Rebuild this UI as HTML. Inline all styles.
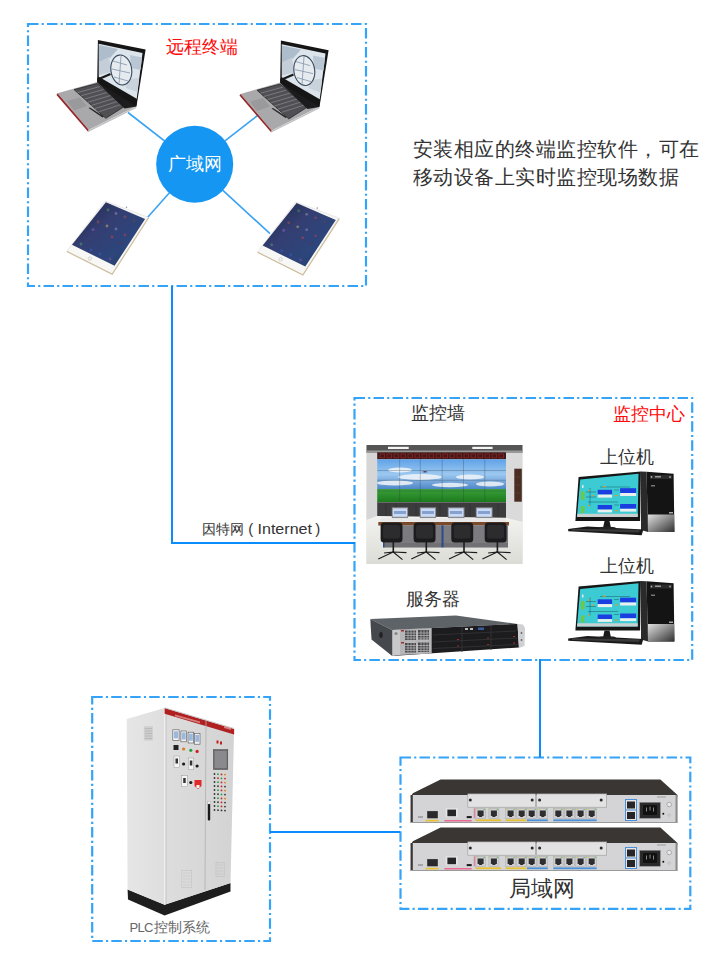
<!DOCTYPE html>
<html><head><meta charset="utf-8">
<style>
html,body{margin:0;padding:0;background:#fff;}
body{width:720px;height:967px;overflow:hidden;position:relative;font-family:"Liberation Sans",sans-serif;}
svg{position:absolute;left:0;top:0;}
.t{font-family:"Liberation Sans",sans-serif;}
</style></head><body>
<svg width="720" height="967" viewBox="0 0 720 967">
<defs>
</defs>
<g id="boxes" stroke="#35a3f7" stroke-width="2.2" stroke-dasharray="10.5 3.2 2.1 3.2" fill="none">
  <rect x="28" y="24" width="338" height="262"/>
  <rect x="354.5" y="398" width="337.7" height="262"/>
  <rect x="400.5" y="757.5" width="289.8" height="151.3"/>
  <rect x="92.2" y="697" width="177.8" height="244"/>
</g>
<g id="links" stroke="#0a8cfc" stroke-width="2" fill="none">
  <polyline points="172,286 172,543 355,543"/>
  <line x1="540" y1="659" x2="540" y2="757.5"/>
  <line x1="270" y1="832" x2="400" y2="832"/>
</g>
<g id="wan" stroke="#3aa3f3" stroke-width="1.6">
  <line x1="128" y1="112.5" x2="194.7" y2="164.3"/>
  <line x1="257.5" y1="115.5" x2="194.7" y2="164.3"/>
  <line x1="147.5" y1="217.5" x2="194.7" y2="164.3"/>
  <line x1="270" y1="233.7" x2="194.7" y2="164.3"/>
</g>

  <g id="laptop">
    <!-- base -->
    <polygon points="57.5,93.3 97.2,82 136.3,106.2 88.7,129.8" fill="#a9a9ac"/>
    <polygon points="57.5,93.3 88.7,129.8 88.3,132 56.5,95" fill="#93282a"/>
    <polygon points="88.7,129.8 136.3,106.2 136.3,108 88.3,132" fill="#c4c4c6"/>
    <polygon points="67,101 80,97.5 87,106 74,110.5" fill="#9a9a9d"/>
    <polygon points="74,89.6 97.2,83.5 124.1,106.7 105.8,118.3" fill="#505054" stroke="#2a2a2c" stroke-width="0.8"/>
    <g stroke="#8a8a90" stroke-width="0.7">
      <line x1="77.5" y1="92.6" x2="100" y2="86.5"/>
      <line x1="81" y1="95.8" x2="103.5" y2="89.5"/>
      <line x1="84.5" y1="99" x2="107" y2="92.5"/>
      <line x1="88" y1="102.2" x2="110.5" y2="95.5"/>
      <line x1="91.5" y1="105.4" x2="114" y2="98.5"/>
      <line x1="95" y1="108.6" x2="117.5" y2="101.5"/>
      <line x1="98.5" y1="111.8" x2="121" y2="104.5"/>
    </g>
    <polygon points="88.5,108 90,107.5 104,116.5 102.5,117.5" fill="#2a2a2c"/>
    <polygon points="97.2,78 136.7,98.8 136.3,106.5 124.5,108.5 97.2,82.5" fill="#1c1c1e"/>
    <!-- lid -->
    <polygon points="97.9,40 145.6,49.6 136.5,106.2 97.2,82" fill="#151515"/>
    <polygon points="98.75,43.75 142.5,52.9 136.7,98.75 98.75,76.7" fill="#dde5ec"/>
    <polygon points="99,45 118,49 110,58 99,62" fill="#aebdcc"/>
    <polygon points="130,55 142,57.5 140.5,70 131,68" fill="#b9c6d3"/>
    <polygon points="99,62 109,57 111,72 99,75" fill="#c3ced9"/>
    <polygon points="125,80 139,78 137.5,92 126,88" fill="#c9d3dc"/>
    <ellipse cx="121.3" cy="70" rx="10.4" ry="15" fill="#e6ebf0" stroke="#3a4a5c" stroke-width="1.1" transform="rotate(-8 121.3 70)"/>
    <g stroke="#8d9db0" stroke-width="0.9">
      <line x1="113" y1="61" x2="127" y2="65"/>
      <line x1="112" y1="69" x2="130" y2="73"/>
      <line x1="114" y1="77" x2="128" y2="81"/>
      <line x1="121" y1="56" x2="119" y2="84"/>
    </g>
    <line x1="110.5" y1="74" x2="100" y2="78.5" stroke="#1a1a1a" stroke-width="2.2"/>
  </g>
<use href="#laptop" transform="translate(183,0.6)"/>
<defs>
  <linearGradient id="tabscr" x1="0" y1="0" x2="1" y2="1">
    <stop offset="0" stop-color="#1e2846"/>
    <stop offset="0.4" stop-color="#343e72"/>
    <stop offset="0.7" stop-color="#2c467c"/>
    <stop offset="1" stop-color="#22345c"/>
  </linearGradient>
</defs>
<g id="tablet">
    <polygon points="105.1,201 148.3,217.3 112,273.8 67,251" fill="#f7f7f5" stroke="#dcdcdc" stroke-width="0.6"/>
    <polyline points="148.6,217.8 112.2,274.3 66.8,251.5" fill="none" stroke="#cdbb98" stroke-width="1.1"/>
    <polygon points="105.9,202.3 145.1,219.1 114.6,265.8 72,244.8" fill="url(#tabscr)"/>
    <g opacity="0.55">
      <circle cx="108" cy="210" r="1.4" fill="#4a9a5a"/>
      <circle cx="116" cy="213.5" r="1.4" fill="#9090a8"/>
      <circle cx="125" cy="217" r="1.4" fill="#a05050"/>
      <circle cx="134" cy="221" r="1.4" fill="#505050"/>
      <circle cx="98" cy="222" r="1.4" fill="#a05050"/>
      <circle cx="107" cy="226" r="1.4" fill="#c0b060"/>
      <circle cx="116" cy="229" r="1.4" fill="#9090b0"/>
      <circle cx="93" cy="229.5" r="1.6" fill="#8060c0"/>
      <circle cx="112" cy="237" r="1.4" fill="#c04050"/>
      <circle cx="125" cy="235" r="1.4" fill="#b04050"/>
      <circle cx="121" cy="243" r="1.4" fill="#603040"/>
      <circle cx="81" cy="244" r="1.4" fill="#50a070"/>
      <circle cx="91" cy="250" r="1.4" fill="#3060c0"/>
      <circle cx="100" cy="254" r="1.4" fill="#3060c0"/>
      <circle cx="110" cy="259" r="1.4" fill="#8050a0"/>
    </g>
    <circle cx="126.5" cy="207.3" r="0.8" fill="#999"/>
    <circle cx="90" cy="258.5" r="1.7" fill="none" stroke="#c4c4c4" stroke-width="0.7"/>
  </g>
<use href="#tablet" transform="translate(190.7,0.8)"/>
<defs>
  <linearGradient id="sky" x1="0" y1="0" x2="0" y2="1">
    <stop offset="0" stop-color="#5fa2e8"/>
    <stop offset="0.5" stop-color="#9cc8f0"/>
    <stop offset="1" stop-color="#4f86c8"/>
  </linearGradient>
  <linearGradient id="grass" x1="0" y1="0" x2="0" y2="1">
    <stop offset="0" stop-color="#3aa03a"/>
    <stop offset="1" stop-color="#1c7a1c"/>
  </linearGradient>
  <linearGradient id="floor" x1="0" y1="0" x2="0" y2="1">
    <stop offset="0" stop-color="#f2f2f0"/>
    <stop offset="1" stop-color="#dcdcd6"/>
  </linearGradient>
</defs>
<g id="videowall">
  <rect x="366.5" y="445" width="156" height="119" fill="url(#floor)"/>
  <!-- walls -->
  <polygon points="366.5,452 377.2,452 377.2,516 366.5,520" fill="#d6d6d6"/>
  <polygon points="506,452 522.5,452 522.5,522 506,517.7" fill="#dadada"/>
  <rect x="514.3" y="468.7" width="7.5" height="33" fill="#4a2e24"/>
  <g stroke="#6a4a3a" stroke-width="0.5"><line x1="514.3" y1="477" x2="521.8" y2="477"/><line x1="514.3" y1="485" x2="521.8" y2="485"/><line x1="514.3" y1="493" x2="521.8" y2="493"/></g>
  <!-- ceiling -->
  <rect x="366.5" y="445" width="156" height="7.5" fill="#555"/>
  <rect x="366.5" y="450.5" width="156" height="2" fill="#999"/>
  <rect x="388" y="446.8" width="20.7" height="2.2" fill="#f4f4f4"/>
  <rect x="472.3" y="446.8" width="20.3" height="2.2" fill="#f4f4f4"/>
  <!-- LED band -->
  <rect x="377.2" y="452.3" width="128.8" height="7" fill="#3a1a1a"/>
  <g fill="none" stroke="#9a2020" stroke-width="0.8"><rect x="380" y="454" width="4.5" height="3.8"/><rect x="387" y="454" width="4.5" height="3.8"/><rect x="394" y="454" width="4.5" height="3.8"/><rect x="401" y="454" width="4.5" height="3.8"/><rect x="408" y="454" width="4.5" height="3.8"/><rect x="415" y="454" width="4.5" height="3.8"/><rect x="422" y="454" width="4.5" height="3.8"/><rect x="429" y="454" width="4.5" height="3.8"/><rect x="436" y="454" width="4.5" height="3.8"/><rect x="443" y="454" width="4.5" height="3.8"/><rect x="450" y="454" width="4.5" height="3.8"/><rect x="457" y="454" width="4.5" height="3.8"/><rect x="464" y="454" width="4.5" height="3.8"/><rect x="471" y="454" width="4.5" height="3.8"/><rect x="478" y="454" width="4.5" height="3.8"/><rect x="485" y="454" width="4.5" height="3.8"/><rect x="492" y="454" width="4.5" height="3.8"/><rect x="499" y="454" width="4.5" height="3.8"/></g>
  <!-- wall screen -->
  <rect x="377.2" y="459.3" width="128.8" height="30" fill="url(#sky)"/>
  <g fill="#f2f6fa" opacity="0.85">
    <ellipse cx="400" cy="470" rx="12" ry="2.5"/>
    <ellipse cx="420" cy="477" rx="22" ry="3"/>
    <ellipse cx="395" cy="483" rx="18" ry="2.5"/>
    <ellipse cx="470" cy="477" rx="14" ry="2.5"/>
    <ellipse cx="490" cy="484" rx="14" ry="2.5"/>
    <ellipse cx="450" cy="485" rx="18" ry="2.2"/>
  </g>
  <rect x="377.2" y="489" width="128.8" height="13" fill="url(#grass)"/>
  <g stroke="#2a3a40" stroke-width="0.5" opacity="0.55">
    <line x1="399.6" y1="459.3" x2="399.6" y2="502"/><line x1="420.3" y1="459.3" x2="420.3" y2="502"/><line x1="442.2" y1="459.3" x2="442.2" y2="502"/><line x1="463.5" y1="459.3" x2="463.5" y2="502"/><line x1="484.8" y1="459.3" x2="484.8" y2="502"/>
    <line x1="377.2" y1="470.5" x2="506" y2="470.5"/><line x1="377.2" y1="480.3" x2="506" y2="480.3"/><line x1="377.2" y1="491" x2="506" y2="491"/>
  </g>
  <path d="M422,472 l3,-1 l3,1 l-3,0.6z" fill="#503040"/>
  <!-- dark panel under wall -->
  <rect x="377.2" y="502" width="128.8" height="17.5" fill="#3c3c3e"/>
  <rect x="377.2" y="502" width="128.8" height="1" fill="#6a6a6a"/>
  <g stroke="#2c2c2e" stroke-width="0.6">
    <line x1="386" y1="503" x2="386" y2="519"/><line x1="396" y1="503" x2="396" y2="519"/><line x1="416" y1="503" x2="416" y2="519"/><line x1="440" y1="503" x2="440" y2="519"/><line x1="470" y1="503" x2="470" y2="519"/><line x1="498" y1="503" x2="498" y2="519"/>
  </g>
  <!-- floor band tile lines -->
  <polygon points="366.5,520 377.2,516 506,517.7 522.5,522 522.5,564 366.5,564" fill="url(#floor)"/>
  <!-- monitors -->
  <g>
    <rect x="391.8" y="507.3" width="16.3" height="11" fill="#8a8a8e"/><rect x="392.8" y="508.3" width="14.3" height="8.5" fill="#c8daf4"/><rect x="394" y="511" width="12" height="3" fill="#5a7ab8" opacity="0.6"/>
    <rect x="419.8" y="507.3" width="16.3" height="11" fill="#8a8a8e"/><rect x="420.8" y="508.3" width="14.3" height="8.5" fill="#c8daf4"/><rect x="422" y="511" width="12" height="3" fill="#5a7ab8" opacity="0.6"/>
    <rect x="447.8" y="507.3" width="16.7" height="11" fill="#8a8a8e"/><rect x="448.8" y="508.3" width="14.7" height="8.5" fill="#c8daf4"/><rect x="450" y="511" width="12" height="3" fill="#5a7ab8" opacity="0.6"/>
    <rect x="475.8" y="507.3" width="16.8" height="11" fill="#8a8a8e"/><rect x="476.8" y="508.3" width="14.8" height="8.5" fill="#c8daf4"/><rect x="478" y="511" width="12" height="3" fill="#5a7ab8" opacity="0.6"/>
  </g>
  <!-- desk -->
  <polygon points="381,518.3 505,518.3 509,525.3 378.3,525.3" fill="#e8e8e8"/>
  <polygon points="378.3,522 509,522 509,525.5 378.3,525.5" fill="#7a4a2a"/>
  <rect x="383" y="525.3" width="125" height="22.3" fill="#7c7c80"/>
  <g stroke="#58585c" stroke-width="0.6"><line x1="383" y1="544" x2="508" y2="544"/><line x1="383" y1="546" x2="508" y2="546"/></g>
  <rect x="441.5" y="525.3" width="2" height="22" fill="#2a4a8a"/>
  <rect x="383" y="525.3" width="1.5" height="22" fill="#2a4a8a"/>
  <!-- chairs -->
  <g id="chair">
    <rect x="380.6" y="522.5" width="21.9" height="20" rx="3.5" fill="#1c1c1e"/>
    <rect x="383" y="525" width="17" height="13.5" rx="2.5" fill="#2c2c2e"/>
    <rect x="392.5" y="542" width="1.6" height="10.5" fill="#1c1c1e"/>
    <path d="M393.2,552 L378.3,559 M393.2,552 L402.5,559.6 M393.2,552 L384,553 M393.2,552 L406.5,552.6" stroke="#1c1c1e" stroke-width="1.2" fill="none"/>
  </g>
  <use href="#chair" transform="translate(33,0)"/>
  <use href="#chair" transform="translate(70.7,0)"/>
  <use href="#chair" transform="translate(104.1,0)"/>
</g>
<defs>
  <linearGradient id="towerbot" x1="0" y1="0" x2="1" y2="1">
    <stop offset="0" stop-color="#e0e0e0"/>
    <stop offset="0.5" stop-color="#8a8a8a"/>
    <stop offset="1" stop-color="#303030"/>
  </linearGradient>
</defs>
<g id="pc">
  <!-- tower -->
  <polygon points="640.9,471.4 646.5,471.7 648,532 641,530" fill="#2a2a2a"/>
  <polygon points="646.5,471.7 673.6,473.8 674.4,532 648,532" fill="#141414"/>
  <polygon points="648,514.5 674.2,514.5 674.4,532 648,532" fill="url(#towerbot)"/>
  <rect x="650" y="475" width="22" height="4" fill="#2c2c2c"/>
  <rect x="655" y="476" width="6" height="1.5" fill="#9a9a9a"/>
  <circle cx="651.5" cy="477" r="0.9" fill="#aaa"/><circle cx="670" cy="477" r="0.9" fill="#aaa"/>
  <rect x="651" y="485" width="4" height="1.5" fill="#777"/>
  <rect x="669" y="512" width="4" height="1.5" fill="#aaa"/>
  <!-- keyboard -->
  <polygon points="568.2,529 587.4,526.5 643.3,529.5 641.7,535.3 568.2,531.3" fill="#1a1a1a"/>
  <polygon points="572,528.8 640,529.8 639,532.5 572,530.5" fill="#3a3a3a"/>
  <!-- stand -->
  <polygon points="604.5,520.9 609.5,520.9 611,528 603,528" fill="#1a1a1a"/>
  <ellipse cx="607" cy="528" rx="9" ry="1.3" fill="#222"/>
  <!-- monitor -->
  <polygon points="578.6,477 640.9,471.4 640.1,520.9 575.4,520.9" fill="#161616"/>
  <polygon points="580.2,479.4 638.5,473.8 637.7,517 577,517" fill="#3ccbd3"/>
  <polygon points="577.5,513.7 637.8,513.7 637.7,517 577,517" fill="#c8d0d0"/>
  <g>
    <rect x="597.7" y="489.8" width="14.4" height="4.8" fill="#1b3ee0"/>
    <rect x="597.7" y="494.6" width="14.4" height="3" fill="#e8f0f0"/>
    <rect x="620.1" y="488.2" width="16" height="4.8" fill="#1b3ee0"/>
    <rect x="620.1" y="493" width="16" height="3" fill="#e8f0f0"/>
    <rect x="597.7" y="505" width="14.4" height="4.6" fill="#1b3ee0"/>
    <rect x="597.7" y="509.6" width="14.4" height="2.8" fill="#e8f0f0"/>
    <rect x="620.1" y="504" width="16" height="4.8" fill="#1b3ee0"/>
    <rect x="620.1" y="508.8" width="16" height="2.8" fill="#e8f0f0"/>
    <rect x="581" y="491.4" width="3.5" height="8.6" fill="#6cc84a"/>
    <rect x="581" y="506" width="3.5" height="7" fill="#6cc84a"/>
    <rect x="582" y="485" width="1.5" height="3" fill="#e8e8e8"/>
    <g stroke="#1a5a60" stroke-width="0.5" fill="none">
      <path d="M586,492 h10 M586,497 h10 M590,488 v18 M614,490 h5 M614,505 h5 M600,487 h30 M588,502 h30"/>
    </g>
    <g fill="#c8a040">
      <rect x="588" y="490" width="2" height="1.2"/><rect x="592" y="495" width="2" height="1.2"/><rect x="615" y="495" width="3" height="1.2"/><rect x="588" y="505" width="2" height="1.2"/><rect x="615" y="510" width="3" height="1.2"/><rect x="603" y="486" width="3" height="1.2"/>
    </g>
  </g>
</g>
<use href="#pc" transform="translate(0,109.5)"/>
<g id="server">
  <polygon points="370.3,618.9 456,615.5 517.5,623.9 392.2,630" fill="#5e6368"/>
  <polygon points="370.3,618.9 392.2,630 392.2,656 371.5,639.5" fill="#45494d"/>
  <ellipse cx="381" cy="635" rx="1.8" ry="3" fill="#222"/>
  <polygon points="392.2,630 517.5,623.9 518.9,647.5 392.2,656" fill="#1c1c1e"/>
  <polygon points="392.2,630 400,629.6 400,655 392.2,656" fill="#c9c9cb"/>
  <circle cx="396" cy="633.5" r="1.6" fill="#888"/>
  <polygon points="400,629.6 431.7,628 431.7,653.5 400,655" fill="#b5b5b8"/>
  <g fill="#4a4a4e">
    <rect x="405" y="630.5" width="11" height="9.5"/><rect x="418" y="630" width="11" height="9.5"/>
    <rect x="405" y="643" width="11" height="9.5"/><rect x="418" y="642.5" width="11" height="9.5"/>
  </g>
  <g stroke="#c8c8c8" stroke-width="0.6">
    <path d="M405,633 h24 M405,635.5 h24 M405,638 h24 M405,645.5 h24 M405,648 h24 M405,650.5 h24 M408,630 v22.5 M411,630 v22.5 M414,630 v22.5 M421,630 v22.5 M424,630 v22.5 M427,630 v22.5"/>
  </g>
  <rect x="401" y="630" width="3" height="1.5" fill="#a03030"/><rect x="401" y="642" width="3" height="1.5" fill="#a03030"/>
  <g stroke="#3a3a3c" stroke-width="0.7">
    <path d="M433,635 L516,631 M433,642 L517,638 M433,648.5 L517,644.5 M462,627 L462,652 M491,625.5 L491,650"/>
  </g>
  <rect x="478" y="627.5" width="6" height="2.5" fill="#3a5aa0"/>
  <rect x="465" y="628" width="3" height="2" fill="#bbb"/><rect x="470" y="628" width="3" height="2" fill="#bbb"/>
  <g fill="#a02a2a"><rect x="457" y="639" width="2" height="1"/><rect x="457" y="645.5" width="2" height="1"/><rect x="487" y="637.5" width="2" height="1"/><rect x="487" y="644" width="2" height="1"/><rect x="513" y="636" width="2" height="1"/><rect x="513" y="642.5" width="2" height="1"/></g>
  <polygon points="517.5,623.9 523,624.5 525,628 524.5,646 519,648" fill="#d0d0d2"/>
  <circle cx="521.5" cy="633" r="0.9" fill="#666"/><circle cx="521.5" cy="640" r="0.9" fill="#666"/>
</g>
<g id="router">
  <polygon points="440.6,779.4 660.4,779.4 677.5,795 677.5,797 410.6,797 412.8,793.3" fill="#3a3634"/>
  <polygon points="410.6,795 677.5,795 677.5,822.8 410.6,822.8" fill="#d4d4d6"/>
  <rect x="410.6" y="795" width="2.2" height="27.8" fill="#3a3634"/>
  <rect x="675.5" y="795" width="2" height="27.8" fill="#8a8a8a"/>
  <rect x="410.6" y="822" width="267" height="1" fill="#9a9a9a"/>
  <!-- module plates -->
  <rect x="467.8" y="793.9" width="67.8" height="13.3" fill="#e2e2e2" stroke="#9a9a9c" stroke-width="0.6"/>
  <rect x="536.7" y="793.9" width="70" height="13.3" fill="#e2e2e2" stroke="#9a9a9c" stroke-width="0.6"/>
  <g fill="#2a2a2a"><circle cx="470.3" cy="800.1" r="1.5"/><circle cx="532.2" cy="800.1" r="1.5"/><circle cx="539.6" cy="800.1" r="1.5"/><circle cx="601.2" cy="800.1" r="1.5"/></g>
  <!-- left ports -->
  <rect x="427.2" y="811.1" width="10.6" height="7.2" fill="#2a2a2a"/>
  <rect x="425.5" y="819.8" width="13" height="1.6" fill="#e8c030"/>
  <rect x="445.6" y="808.3" width="12.2" height="8.9" fill="#e4e4e4"/><rect x="447.4" y="809.6" width="8.6" height="6.6" fill="#262628"/>
  <rect x="444.4" y="820" width="27.3" height="1.5" fill="#e86a90"/>
  <rect x="466.7" y="816.1" width="5" height="2" fill="#1a1a1a"/>
  <rect x="418" y="816.5" width="5" height="1" fill="#777"/>
  <rect x="473.8" y="808.3" width="1" height="10" fill="#e86a90"/>
  <rect x="475.6" y="808.3" width="10" height="10" fill="#cfcfd1" stroke="#a8a8aa" stroke-width="0.5"/><rect x="477.6" y="810.5" width="6" height="5.5" fill="#2e2e30"/><rect x="479.1" y="815.5" width="3" height="1.5" fill="#2e2e30"/><rect x="476.40000000000003" y="809" width="1.3" height="1" fill="#c8d040"/><rect x="483.5" y="809" width="1.3" height="1" fill="#60c060"/><rect x="488.9" y="808.3" width="10" height="10" fill="#cfcfd1" stroke="#a8a8aa" stroke-width="0.5"/><rect x="490.9" y="810.5" width="6" height="5.5" fill="#2e2e30"/><rect x="492.4" y="815.5" width="3" height="1.5" fill="#2e2e30"/><rect x="489.7" y="809" width="1.3" height="1" fill="#c8d040"/><rect x="496.79999999999995" y="809" width="1.3" height="1" fill="#60c060"/><rect x="505.6" y="808.3" width="10" height="10" fill="#cfcfd1" stroke="#a8a8aa" stroke-width="0.5"/><rect x="507.6" y="810.5" width="6" height="5.5" fill="#2e2e30"/><rect x="509.1" y="815.5" width="3" height="1.5" fill="#2e2e30"/><rect x="506.40000000000003" y="809" width="1.3" height="1" fill="#c8d040"/><rect x="513.5" y="809" width="1.3" height="1" fill="#60c060"/><rect x="516.7" y="808.3" width="10" height="10" fill="#cfcfd1" stroke="#a8a8aa" stroke-width="0.5"/><rect x="518.7" y="810.5" width="6" height="5.5" fill="#2e2e30"/><rect x="520.2" y="815.5" width="3" height="1.5" fill="#2e2e30"/><rect x="517.5" y="809" width="1.3" height="1" fill="#c8d040"/><rect x="524.6" y="809" width="1.3" height="1" fill="#60c060"/><rect x="526.7" y="808.3" width="10" height="10" fill="#cfcfd1" stroke="#a8a8aa" stroke-width="0.5"/><rect x="528.7" y="810.5" width="6" height="5.5" fill="#2e2e30"/><rect x="530.2" y="815.5" width="3" height="1.5" fill="#2e2e30"/><rect x="527.5" y="809" width="1.3" height="1" fill="#c8d040"/><rect x="534.6" y="809" width="1.3" height="1" fill="#60c060"/><rect x="537.8" y="808.3" width="10" height="10" fill="#cfcfd1" stroke="#a8a8aa" stroke-width="0.5"/><rect x="539.8" y="810.5" width="6" height="5.5" fill="#2e2e30"/><rect x="541.3" y="815.5" width="3" height="1.5" fill="#2e2e30"/><rect x="538.5999999999999" y="809" width="1.3" height="1" fill="#c8d040"/><rect x="545.6999999999999" y="809" width="1.3" height="1" fill="#60c060"/><rect x="553.3" y="808.3" width="10" height="10" fill="#cfcfd1" stroke="#a8a8aa" stroke-width="0.5"/><rect x="555.3" y="810.5" width="6" height="5.5" fill="#2e2e30"/><rect x="556.8" y="815.5" width="3" height="1.5" fill="#2e2e30"/><rect x="554.0999999999999" y="809" width="1.3" height="1" fill="#c8d040"/><rect x="561.1999999999999" y="809" width="1.3" height="1" fill="#60c060"/><rect x="564.4" y="808.3" width="10" height="10" fill="#cfcfd1" stroke="#a8a8aa" stroke-width="0.5"/><rect x="566.4" y="810.5" width="6" height="5.5" fill="#2e2e30"/><rect x="567.9" y="815.5" width="3" height="1.5" fill="#2e2e30"/><rect x="565.1999999999999" y="809" width="1.3" height="1" fill="#c8d040"/><rect x="572.3" y="809" width="1.3" height="1" fill="#60c060"/><rect x="575.6" y="808.3" width="10" height="10" fill="#cfcfd1" stroke="#a8a8aa" stroke-width="0.5"/><rect x="577.6" y="810.5" width="6" height="5.5" fill="#2e2e30"/><rect x="579.1" y="815.5" width="3" height="1.5" fill="#2e2e30"/><rect x="576.4" y="809" width="1.3" height="1" fill="#c8d040"/><rect x="583.5" y="809" width="1.3" height="1" fill="#60c060"/><rect x="586.7" y="808.3" width="10" height="10" fill="#cfcfd1" stroke="#a8a8aa" stroke-width="0.5"/><rect x="588.7" y="810.5" width="6" height="5.5" fill="#2e2e30"/><rect x="590.2" y="815.5" width="3" height="1.5" fill="#2e2e30"/><rect x="587.5" y="809" width="1.3" height="1" fill="#c8d040"/><rect x="594.6" y="809" width="1.3" height="1" fill="#60c060"/>
  <rect x="475.6" y="819.4" width="25.5" height="1.8" fill="#e8c030"/>
  <rect x="505.6" y="819.4" width="21" height="1.8" fill="#e8c030"/>
  <rect x="527" y="819.4" width="20.8" height="1.8" fill="#4a90d8"/>
  <rect x="553.3" y="819.4" width="43.4" height="1.8" fill="#4a90d8"/>
  <!-- right side -->
  <rect x="625" y="799" width="12" height="22" fill="#4a90d8"/>
  <rect x="626" y="800" width="10" height="9.5" fill="#e6e6e6"/><rect x="627" y="801.5" width="8" height="7" fill="#262628"/>
  <rect x="626" y="810.5" width="10" height="9.5" fill="#e6e6e6"/><rect x="627" y="812" width="8" height="7" fill="#262628"/>
  <rect x="639.6" y="802.3" width="20.8" height="16" fill="#2a2a2a" stroke="#9a9a9a" stroke-width="0.5"/>
  <rect x="643" y="805" width="14" height="10" rx="1" fill="#111"/>
  <g fill="#888"><rect x="646" y="807.5" width="1" height="4"/><rect x="649.5" y="806.5" width="1" height="4"/><rect x="653" y="807.5" width="1" height="4"/></g>
  <circle cx="669.2" cy="804.5" r="2.3" fill="#e8e8e8" stroke="#888" stroke-width="0.6"/>
  <circle cx="663.3" cy="813.8" r="1" fill="#111"/>
  <circle cx="669.2" cy="815" r="1.3" fill="none" stroke="#aaa" stroke-width="0.5"/>
  <rect x="657" y="796.5" width="9" height="1" fill="#999"/>
</g>
<use href="#router" transform="translate(0,48)"/>
<defs>
  <linearGradient id="plcside" x1="0" y1="0" x2="1" y2="0">
    <stop offset="0" stop-color="#e6e6e6"/>
    <stop offset="1" stop-color="#dedede"/>
  </linearGradient>
  <linearGradient id="plcfront" x1="0" y1="0" x2="1" y2="0">
    <stop offset="0" stop-color="#dcdddc"/>
    <stop offset="1" stop-color="#d2d3d2"/>
  </linearGradient>
</defs>
<g id="plc">
  <!-- plinth -->
  <polygon points="127.6,889.4 164.6,904.7 230.5,883 230.5,891.5 164.6,915.5 128,899.5" fill="#1e1e1e"/>
  <!-- side -->
  <polygon points="126.7,719 164.6,708.1 164.6,904.7 127.6,889.4" fill="url(#plcside)"/>
  <rect x="143.9" y="726.2" width="9" height="14.4" fill="#cfcfcf"/>
  <g stroke="#a8a8a8" stroke-width="0.6"><path d="M145,728.5 h7 M145,731 h7 M145,733.5 h7 M145,736 h7 M145,738.5 h7"/></g>
  <!-- front -->
  <polygon points="164.6,708.1 234.1,728.9 230.5,883 164.6,904.7" fill="url(#plcfront)"/>
  <line x1="164.6" y1="708.1" x2="164.6" y2="904.7" stroke="#f0f0f0" stroke-width="1"/>
  <line x1="166.2" y1="712" x2="166.2" y2="904" stroke="#bdbdbd" stroke-width="0.6"/>
  <polygon points="164.6,708.1 234.1,728.9 234.1,734.6 164.6,713.8" fill="#b02020"/><polygon points="164.6,707.3 234.1,728.1 234.1,729 164.6,708.3" fill="#c8c8c8"/>
  <polygon points="175,714.5 200,721.5 200,723.3 175,716.3" fill="#f0c0c0" opacity="0.6"/>
  <polygon points="224,726 231,728 231,730 224,728" fill="#f0c0c0" opacity="0.6"/>
  <line x1="206" y1="721" x2="205" y2="890" stroke="#b0b0b0" stroke-width="0.8"/>
  <!-- meters -->
  <g>
    <rect x="172.8" y="729.8" width="6.3" height="10.8" fill="#f2f2f2" stroke="#555" stroke-width="0.6"/><rect x="173.8" y="731.3" width="4.3" height="7" fill="#9ab8e0"/>
    <rect x="180.9" y="731" width="5.6" height="10.8" fill="#f2f2f2" stroke="#555" stroke-width="0.6"/><rect x="181.8" y="732.5" width="3.8" height="7" fill="#9ab8e0"/>
    <rect x="188.1" y="732.2" width="5.6" height="10.8" fill="#f2f2f2" stroke="#555" stroke-width="0.6"/><rect x="189" y="733.7" width="3.8" height="7" fill="#9ab8e0"/>
    <rect x="194.4" y="733.4" width="5.6" height="10.8" fill="#f2f2f2" stroke="#555" stroke-width="0.6"/><rect x="195.3" y="734.9" width="3.8" height="7" fill="#9ab8e0"/>
  </g>
  <rect x="173.5" y="745" width="5" height="5" fill="#222"/>
  <circle cx="183.6" cy="749" r="1.6" fill="#e07820"/>
  <circle cx="190.8" cy="750.3" r="1.6" fill="#20a040"/>
  <circle cx="197.1" cy="751.4" r="1.6" fill="#d02020"/>
  <rect x="174" y="756" width="5.5" height="11.5" fill="#f4f4f4" stroke="#888" stroke-width="0.4"/><rect x="175.5" y="758.5" width="2.5" height="5" fill="#333"/>
  <circle cx="183.6" cy="764" r="1.6" fill="#1a1a1a"/>
  <rect x="188.3" y="758" width="5.5" height="11.5" fill="#f4f4f4" stroke="#888" stroke-width="0.4"/><rect x="189.8" y="760.5" width="2.5" height="5" fill="#333"/>
  <circle cx="197.1" cy="766" r="1.6" fill="#1a1a1a"/>
  <rect x="181.7" y="775.8" width="5.5" height="11" fill="#f4f4f4" stroke="#888" stroke-width="0.4"/><rect x="183.2" y="778" width="2.5" height="5" fill="#333"/>
  <circle cx="190.8" cy="782.5" r="1.6" fill="#1a1a1a"/>
  <path d="M194.5,780 h7 v6 l-3.5,3 l-3.5,-3z" fill="#e02a2a"/>
  <rect x="196.5" y="785" width="3" height="3" fill="#f8f8f8"/>
  <!-- right door -->
  <rect x="216.5" y="740.5" width="2" height="3" fill="#c02020"/><rect x="220" y="741.5" width="2" height="3" fill="#c02020"/>
  <rect x="213.4" y="749.6" width="14.4" height="19.9" fill="#6a6a6c" stroke="#444" stroke-width="0.5"/>
  <rect x="214.6" y="751" width="12" height="17" fill="#8a8a8e"/>
  <g>
    <circle cx="214.5" cy="774" r="0.9" fill="#333"/><circle cx="218" cy="774.2" r="0.9" fill="#20a040"/><circle cx="221.5" cy="774.4" r="0.9" fill="#d02020"/><circle cx="225" cy="774.6" r="0.9" fill="#e07820"/>
    <circle cx="214.5" cy="778" r="0.9" fill="#333"/><circle cx="218" cy="778.2" r="0.9" fill="#d02020"/><circle cx="221.5" cy="778.4" r="0.9" fill="#20a040"/><circle cx="225" cy="778.6" r="0.9" fill="#d02020"/>
    <circle cx="214.5" cy="782" r="0.9" fill="#333"/><circle cx="218" cy="782.2" r="0.9" fill="#20a040"/><circle cx="221.5" cy="782.4" r="0.9" fill="#d02020"/><circle cx="225" cy="782.6" r="0.9" fill="#e07820"/>
    <circle cx="214.5" cy="786" r="0.9" fill="#333"/><circle cx="218" cy="786.2" r="0.9" fill="#333"/><circle cx="221.5" cy="786.4" r="0.9" fill="#d02020"/><circle cx="225" cy="786.6" r="0.9" fill="#333"/>
    <circle cx="214.5" cy="790" r="0.9" fill="#333"/><circle cx="218" cy="790.2" r="0.9" fill="#20a040"/><circle cx="221.5" cy="790.4" r="0.9" fill="#d02020"/><circle cx="225" cy="790.6" r="0.9" fill="#e07820"/>
    <circle cx="214.5" cy="794" r="0.9" fill="#333"/><circle cx="218" cy="794.2" r="0.9" fill="#333"/><circle cx="221.5" cy="794.4" r="0.9" fill="#20a040"/><circle cx="225" cy="794.6" r="0.9" fill="#333"/>
    <circle cx="214.5" cy="798" r="0.9" fill="#333"/><circle cx="218" cy="798.2" r="0.9" fill="#20a040"/><circle cx="221.5" cy="798.4" r="0.9" fill="#d02020"/><circle cx="225" cy="798.6" r="0.9" fill="#e07820"/>
    <circle cx="214.5" cy="802" r="0.9" fill="#333"/><circle cx="218" cy="802.2" r="0.9" fill="#333"/><circle cx="221.5" cy="802.4" r="0.9" fill="#d02020"/><circle cx="225" cy="802.6" r="0.9" fill="#333"/>
    <circle cx="214.5" cy="806" r="0.9" fill="#333"/><circle cx="218" cy="806.2" r="0.9" fill="#20a040"/><circle cx="221.5" cy="806.4" r="0.9" fill="#d02020"/><circle cx="225" cy="806.6" r="0.9" fill="#333"/>
    <circle cx="214.5" cy="810" r="0.9" fill="#333"/><circle cx="218" cy="810.2" r="0.9" fill="#333"/><circle cx="221.5" cy="810.4" r="0.9" fill="#333"/><circle cx="225" cy="810.6" r="0.9" fill="#333"/>
  </g>
  <rect x="207.8" y="803" width="2.4" height="17.6" rx="1" fill="#1a1a1a"/>
  <rect x="207.5" y="801.5" width="3" height="2.5" fill="#f0f0f0" stroke="#999" stroke-width="0.3"/>
  <!-- vents -->
  <rect x="181.8" y="870.4" width="9.9" height="17.1" fill="#dadada" stroke="#c4c4c4" stroke-width="0.6"/>
  <g stroke="#bdbdbd" stroke-width="0.4"><path d="M183,873 h7.5 M183,876 h7.5 M183,879 h7.5 M183,882 h7.5 M183,885 h7.5"/></g>
  <rect x="216" y="862.3" width="8.2" height="14.4" fill="#d4d4d4" stroke="#c0c0c0" stroke-width="0.6"/>
  <g stroke="#bdbdbd" stroke-width="0.4"><path d="M217,865 h6 M217,868 h6 M217,871 h6 M217,874 h6"/></g>
</g>
<circle cx="194.7" cy="164.3" r="38.5" fill="#1496f2"/>
<g class="t">
  <text x="194.7" y="169.5" font-size="18" fill="#fff" font-weight="300" text-anchor="middle">广域网</text>
  <text x="166" y="52.5" font-size="17.5" fill="#ff0a0a">远程终端</text>
  <text x="412.5" y="156" font-size="20" fill="#333" textLength="286.5" lengthAdjust="spacing">安装相应的终端监控软件，可在</text>
  <text x="412.5" y="184" font-size="20" fill="#333" textLength="266" lengthAdjust="spacing">移动设备上实时监控现场数据</text>
  <text x="202" y="533.5" font-size="14" fill="#333">因特网</text><text x="248.3" y="533.8" font-size="15" fill="#333">(</text><text x="257.5" y="533.6" font-size="14" fill="#333" textLength="54.5" lengthAdjust="spacingAndGlyphs">Internet</text><text x="315.3" y="533.8" font-size="15" fill="#333">)</text>
  <text x="411" y="419" font-size="18" fill="#333">监控墙</text>
  <text x="612.5" y="420" font-size="18" fill="#ff0a0a">监控中心</text>
  <text x="600" y="462.5" font-size="18" fill="#333">上位机</text>
  <text x="600" y="572" font-size="18" fill="#333">上位机</text>
  <text x="405.5" y="605" font-size="18" fill="#333">服务器</text>
  <text x="508.8" y="896" font-size="21.5" fill="#333">局域网</text>
  <text x="129.5" y="931.5" font-size="13" fill="#666" textLength="24" lengthAdjust="spacing">PLC</text><text x="154" y="931.5" font-size="13.6" fill="#666">控制系统</text>
</g>
</svg>
</body></html>
